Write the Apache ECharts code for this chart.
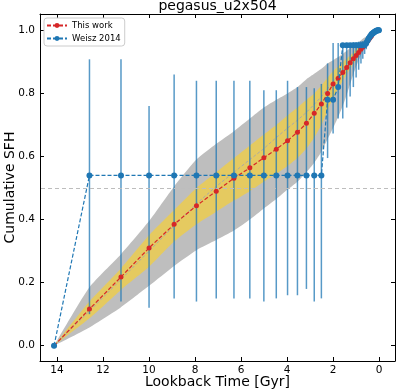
<!doctype html>
<html>
<head>
<meta charset="utf-8">
<script src="https://cdn.jsdelivr.net/npm/echarts@6/dist/echarts.min.js"></script>
<style>
  html, body { margin:0; padding:0; background:#fff; }
  #chart { width:399px; height:389px; }
</style>
</head>
<body>
<div id="chart"></div>
<script>
// lookback time bins [Gyr]
const ages = [14.13, 12.59, 11.22, 10.0, 8.91, 7.94, 7.08, 6.31, 5.62, 5.01, 4.47, 3.98, 3.55, 3.16, 2.82, 2.51,
  2.24, 2.0, 1.78, 1.58, 1.41, 1.26, 1.12, 1.0, 0.89, 0.79, 0.71, 0.63, 0.56, 0.50, 0.45, 0.40, 0.35, 0.32];
const thisWork = [0, 0.116, 0.218, 0.31, 0.385, 0.444, 0.49, 0.531, 0.564, 0.596, 0.623, 0.65, 0.677, 0.705, 0.737, 0.766,
  0.80, 0.83, 0.848, 0.866, 0.882, 0.897, 0.91, 0.92, 0.93, 0.94, 0.947, 0.953, 0.96, 0.966, 0.971, 0.976, 0.98, 0.984];
const median = [0, 0.11, 0.21, 0.30, 0.38, 0.45, 0.505, 0.55, 0.59, 0.625, 0.66, 0.69, 0.715, 0.74, 0.765, 0.79,
  0.815, 0.838, 0.855, 0.872, 0.886, 0.899, 0.911, 0.922, 0.932, 0.941, 0.949, 0.956, 0.962, 0.967, 0.972, 0.977, 0.981, 0.985];
const yellowLo = [0, 0.087, 0.177, 0.25, 0.33, 0.385, 0.425, 0.46, 0.49, 0.52, 0.545, 0.57, 0.595, 0.625, 0.66, 0.70,
  0.745, 0.785, 0.815, 0.84, 0.86, 0.878, 0.893, 0.906, 0.918, 0.928, 0.937, 0.945, 0.952, 0.958, 0.964, 0.969, 0.974, 0.978];
const yellowHi = [0, 0.14, 0.245, 0.35, 0.43, 0.50, 0.55, 0.595, 0.635, 0.67, 0.70, 0.73, 0.755, 0.78, 0.80, 0.825,
  0.85, 0.87, 0.885, 0.90, 0.91, 0.92, 0.93, 0.94, 0.948, 0.955, 0.961, 0.966, 0.971, 0.975, 0.979, 0.983, 0.986, 0.989];
const grayLo = [0, 0.058, 0.122, 0.19, 0.253, 0.303, 0.335, 0.365, 0.40, 0.435, 0.465, 0.495, 0.52, 0.55, 0.58, 0.615,
  0.655, 0.69, 0.725, 0.76, 0.795, 0.83, 0.86, 0.885, 0.905, 0.922, 0.935, 0.945, 0.953, 0.96, 0.966, 0.971, 0.976, 0.98];
const grayHi = [0, 0.185, 0.29, 0.395, 0.505, 0.59, 0.64, 0.68, 0.72, 0.755, 0.78, 0.80, 0.82, 0.845, 0.862, 0.878,
  0.895, 0.905, 0.915, 0.925, 0.935, 0.943, 0.95, 0.957, 0.963, 0.968, 0.973, 0.977, 0.98, 0.983, 0.986, 0.988, 0.99, 0.992];

// Weisz 2014
const weiszAges = [14.13, 12.59, 11.22, 10.0, 8.91, 7.94, 7.08, 6.31, 5.62, 5.01, 4.47, 3.98, 3.55, 3.16, 2.82, 2.51,
  2.24, 2.0, 1.78, 1.58, 1.41, 1.26, 1.12, 1.0, 0.89, 0.79, 0.71, 0.63, 0.56, 0.50, 0.45, 0.40, 0.35, 0.32,
  0.28, 0.25, 0.22, 0.20, 0.16, 0.13, 0.10, 0.06, 0.03, 0.01];
const weiszCsfh = [0, 0.54, 0.54, 0.54, 0.54, 0.54, 0.54, 0.54, 0.54, 0.54, 0.54, 0.54, 0.54, 0.54, 0.54, 0.54,
  0.78, 0.78, 0.82, 0.953, 0.953, 0.953, 0.953, 0.953, 0.953, 0.953, 0.953, 0.953, 0.96, 0.968, 0.975, 0.98, 0.985, 0.988,
  0.99, 0.992, 0.994, 0.995, 0.997, 0.998, 0.999, 1.0, 1.0, 1.0];
const weiszLo = [0, 0.10, 0.14, 0.12, 0.15, 0.14, 0.15, 0.15, 0.15, 0.14, 0.15, 0.16, 0.16, 0.18, 0.14, 0.15,
  0.595, 0.673, 0.72, 0.72, 0.755, 0.79, 0.82, 0.85, 0.875, 0.895, 0.91, 0.925, 0.94, 0.95, 0.96, 0.967, 0.973, 0.978,
  0.982, 0.985, 0.988, 0.99, 0.993, 0.995, 0.997, 0.998, 0.999, 1.0];
const weiszHi = [0, 0.908, 0.908, 0.76, 0.86, 0.84, 0.84, 0.84, 0.84, 0.81, 0.81, 0.84, 0.82, 0.82, 0.816, 0.83,
  0.895, 0.96, 0.96, 0.96, 0.96, 0.96, 0.962, 0.962, 0.964, 0.965, 0.966, 0.968, 0.97, 0.975, 0.98, 0.985, 0.99, 0.992,
  0.994, 0.995, 0.996, 0.997, 0.998, 0.999, 1.0, 1.0, 1.0, 1.0];

const xTicks = [0, 2, 4, 6, 8, 10, 12, 14];
const yTicks = [0, 0.2, 0.4, 0.6, 0.8, 1.0];

const FONT = 'DejaVu Sans';
const RED = '#d62728';
const BLUE = '#1f77b4';

function band(lo, hi, fill, z) {
  return {
    type: 'custom', silent: true, z: z, data: [[ages[0], 0]],
    renderItem: (params, api) => {
      const pts = [];
      for (let i = 0; i < ages.length; i++) pts.push(api.coord([ages[i], hi[i]]));
      for (let i = ages.length - 1; i >= 0; i--) pts.push(api.coord([ages[i], lo[i]]));
      return { type: 'polygon', shape: { points: pts, smooth: 0.2 }, style: { fill: fill } };
    }
  };
}

const axisCommon = {
  type: 'value',
  axisLine: { show: true, onZero: false, lineStyle: { color: '#000', width: 1 } },
  axisTick: { show: true, inside: true, length: 4, lineStyle: { color: '#000' } },
  splitLine: { show: false }
};

const chart = echarts.init(document.getElementById('chart'), null, { renderer: 'canvas' });
chart.setOption({
  animation: false,
  backgroundColor: '#fff',
  title: {
    text: 'pegasus_u2x504', left: 217.5, top: -1, padding: 0, textAlign: 'center',
    textStyle: { fontFamily: FONT, fontSize: 14, fontWeight: 'normal', color: '#000' }
  },
  legend: {
    orient: 'vertical', left: 44, top: 18, padding: [3, 4, 3, 2],
    itemWidth: 20, itemHeight: 6, itemGap: 4,
    borderColor: '#cccccc', borderWidth: 1, borderRadius: 3,
    backgroundColor: 'rgba(255,255,255,0.8)',
    textStyle: { fontFamily: FONT, fontSize: 8.5, color: '#000' },
    data: ['This work', 'Weisz 2014']
  },
  grid: { left: 40, right: 4, top: 14, bottom: 28, outerBoundsMode: 'none', containLabel: false },
  xAxis: [
    Object.assign({}, axisCommon, {
      min: -0.69, max: 14.74, inverse: true, position: 'bottom',
      axisTick: Object.assign({}, axisCommon.axisTick, { customValues: xTicks }),
      axisLabel: { customValues: xTicks, margin: 4, fontFamily: FONT, fontSize: 10.5, color: '#000' },
      name: 'Lookback Time [Gyr]', nameLocation: 'middle', nameGap: 14, nameMoveOverlap: false,
      nameTextStyle: { fontFamily: FONT, fontSize: 14, color: '#000' }
    }),
    Object.assign({}, axisCommon, {
      min: -0.69, max: 14.74, inverse: true, position: 'top',
      axisTick: Object.assign({}, axisCommon.axisTick, { customValues: xTicks }),
      axisLabel: { show: false }
    })
  ],
  yAxis: [
    Object.assign({}, axisCommon, {
      min: -0.0485, max: 1.0517, position: 'left',
      axisTick: Object.assign({}, axisCommon.axisTick, { customValues: yTicks }),
      axisLabel: { customValues: yTicks, margin: 5, align: 'right', verticalAlign: 'middle',
        fontFamily: FONT, fontSize: 10.5, color: '#000',
        hideOverlap: false, formatter: v => v.toFixed(1) },
      name: 'Cumulative SFH', nameLocation: 'middle', nameGap: 23, nameRotate: 90, nameMoveOverlap: false,
      nameTextStyle: { fontFamily: FONT, fontSize: 14, color: '#000' }
    }),
    Object.assign({}, axisCommon, {
      min: -0.0485, max: 1.0517, position: 'right',
      axisTick: Object.assign({}, axisCommon.axisTick, { customValues: yTicks }),
      axisLabel: { show: false }
    })
  ],
  series: [
    band(grayLo, grayHi, '#bebebe', 1),
    band(yellowLo, yellowHi, 'rgba(236,205,80,0.85)', 2),
    {
      type: 'line', silent: true, z: 3, symbol: 'none',
      data: ages.map((a, i) => [a, median[i]]),
      lineStyle: { color: '#a9a9a9', width: 1, type: [3, 2] },
      markLine: {
        silent: true, symbol: 'none', label: { show: false },
        lineStyle: { color: '#bdbdbd', width: 1, type: [4, 3] },
        data: [{ yAxis: 0.5 }]
      }
    },
    {
      type: 'custom', silent: true, z: 4,
      data: weiszAges.map((a, i) => [a, weiszLo[i], weiszHi[i]]),
      encode: { x: 0, y: [1, 2] },
      renderItem: (params, api) => {
        const p1 = api.coord([api.value(0), api.value(1)]);
        const p2 = api.coord([api.value(0), api.value(2)]);
        return { type: 'line', shape: { x1: p1[0], y1: p1[1], x2: p2[0], y2: p2[1] },
          style: { stroke: 'rgba(31,119,180,0.75)', lineWidth: 1.5 } };
      }
    },
    {
      name: 'This work', type: 'line', z: 5,
      data: ages.map((a, i) => [a, thisWork[i]]),
      symbol: 'circle', symbolSize: 5,
      itemStyle: { color: RED },
      lineStyle: { color: RED, width: 1.2, type: [4, 2] }
    },
    {
      name: 'Weisz 2014', type: 'line', z: 6,
      data: weiszAges.map((a, i) => [a, weiszCsfh[i]]),
      symbol: 'circle', symbolSize: 6,
      itemStyle: { color: BLUE },
      lineStyle: { color: BLUE, width: 1.2, type: [4, 2] }
    }
  ]
});
</script>
</body>
</html>
